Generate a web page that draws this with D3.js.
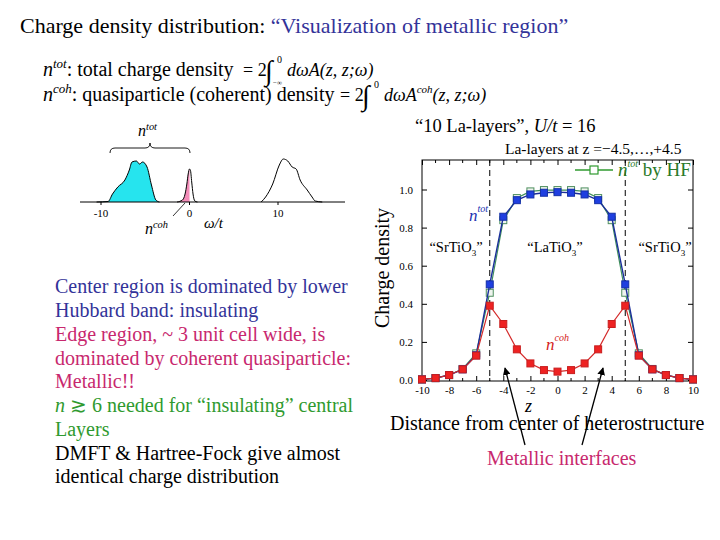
<!DOCTYPE html>
<html><head><meta charset="utf-8">
<script src="https://cdn.jsdelivr.net/npm/d3@7"></script>
<style>body{margin:0;background:#fff}svg{display:block}text{font-family:"Liberation Serif","Times New Roman",serif}</style>
</head><body>
<script>
// ---- data: main chart ----
const zValues = [-10,-9,-8,-7,-6,-5,-4,-3,-2,-1,0,1,2,3,4,5,6,7,8,9,10];
const nTot   = [0.003,0.01,0.026,0.056,0.13,0.502,0.857,0.944,0.974,0.983,0.986,0.983,0.974,0.944,0.857,0.502,0.13,0.056,0.026,0.01,0.003];
const nTotHF = [0.003,0.01,0.026,0.058,0.14,0.458,0.839,0.955,0.99,0.997,0.997,0.997,0.99,0.955,0.839,0.458,0.14,0.058,0.026,0.01,0.003];
const nCoh   = [0.003,0.01,0.026,0.056,0.128,0.39,0.294,0.161,0.087,0.052,0.044,0.052,0.087,0.161,0.294,0.39,0.128,0.056,0.026,0.01,0.003];
const xTickLabels = [-10,-8,-6,-4,-2,0,2,4,6,8,10];
const yTickLabels = [0.0,0.2,0.4,0.6,0.8,1.0];
const interfaceZ = [-5,5];
// ---- data: inset spectral function ----
const lowerW = [-10.5,-9.2,-8.7,-8.1,-7.3,-6.8,-6.5,-6.0,-5.65,-5.3,-4.8,-4.3,-3.8,-3.4];
const lowerA = [0,0.5,8,15,22,32,40,41,38,40,35,17,2,0];
const qpW = [-1.4,-0.8,-0.5,-0.3,-0.15,0,0.1,0.25,0.4,0.6,0.9];
const qpA = [0,2,8,18,28,33,32,20,8,1,0];
const upperW = [8.1,8.6,9.4,10.15,10.6,11.1,11.6,12.05,12.5,13.3,13.85,14.2,15];
const upperA = [0,5,18,37,43,41,35,33,22,12,5,1,0];
const insetTicks = [-10,0,10];

const W=720,H=540;
const svg=d3.select("body").append("svg").attr("width",W).attr("height",H)
  .attr("font-family","'Liberation Serif','Times New Roman',serif");

const blueText="#333399", magenta="#c8286e", green="#2f9a2f";

// Title
const t=svg.append("text").attr("x",20).attr("y",33).attr("font-size",22);
t.append("tspan").attr("fill","#000").text("Charge density distribution: ");
t.append("tspan").attr("fill",blueText).text("\u201cVisualization of metallic region\u201d");

// Formula lines
function nLabel(g,x,y,sup,rest,fs){
  const tx=g.append("text").attr("x",x).attr("y",y).attr("font-size",fs);
  tx.append("tspan").attr("font-style","italic").text("n");
  tx.append("tspan").attr("font-size",fs*0.65).attr("dy",-fs*0.4).attr("font-style","italic").text(sup);
  tx.append("tspan").attr("dy",fs*0.4).text(rest);
}
nLabel(svg,43,76,"tot",": total charge density",20);
nLabel(svg,43,101,"coh",": quasiparticle (coherent) density",20);
function formula(x,y,lower,coh){
  svg.append("text").attr("x",x).attr("y",y).attr("font-size",18).text("= 2");
  svg.append("text").attr("x",x+22).attr("y",y+4).attr("font-size",28).text("\u222b");
  svg.append("text").attr("x",x+34).attr("y",y-13).attr("font-size",10).text("0");
  if(lower) svg.append("text").attr("x",x+30).attr("y",y+9).attr("font-size",7).text("\u2212\u221e");
  const f=svg.append("text").attr("x",x+44).attr("y",y).attr("font-size",18).attr("font-style","italic");
  f.append("tspan").text("d\u03c9A");
  if(coh){f.append("tspan").attr("font-size",11).attr("dy",-8).text("coh");f.append("tspan").attr("dy",8).text("(z, z;\u03c9)");}
  else f.append("tspan").text("(z, z;\u03c9)");
}
formula(243,76,true,false);
formula(340,101,false,true);

// Subtitles
const s1=svg.append("text").attr("x",415).attr("y",132).attr("font-size",18.5);
s1.append("tspan").text("\u201c10 La-layers\u201d, ");
s1.append("tspan").attr("font-style","italic").text("U/t");
s1.append("tspan").text(" = 16");
svg.append("text").attr("x",505).attr("y",154).attr("font-size",15.5).text("La-layers at z =\u22124.5,\u2026,+4.5");

// ---- Inset ----
const xw=d3.scaleLinear().domain([-10,10]).range([101,278]);
const ya=d3.scaleLinear().domain([0,45]).range([202,157]);
const ins=svg.append("g");
const cv=d3.curveMonotoneX;
const areaG=d3.area().x(d=>xw(d[0])).y0(ya(0)).y1(d=>ya(d[1])).curve(cv);
const lineG=d3.line().x(d=>xw(d[0])).y(d=>ya(d[1])).curve(cv);
const lowerPts=lowerW.map((w,i)=>[w,lowerA[i]]);
const qpPts=qpW.map((w,i)=>[w,qpA[i]]);
const upperPts=upperW.map((w,i)=>[w,upperA[i]]);
ins.append("path").attr("d",areaG(lowerPts)).attr("fill","#26e4ee");
ins.append("path").attr("d",areaG(qpPts.filter(d=>d[0]<=0).concat([[0.02,0]]))).attr("fill","#f28cb8");
ins.append("line").attr("x1",80).attr("x2",345).attr("y1",ya(0)).attr("y2",ya(0)).attr("stroke","#000").attr("stroke-width",1);
[lowerPts,qpPts,upperPts].forEach(p=>ins.append("path").attr("d",lineG(p)).attr("fill","none").attr("stroke","#000").attr("stroke-width",1));
insetTicks.forEach(v=>{
  ins.append("line").attr("x1",xw(v)).attr("x2",xw(v)).attr("y1",ya(0)).attr("y2",ya(0)+3).attr("stroke","#000");
  ins.append("text").attr("x",xw(v)).attr("y",217).attr("text-anchor","middle").attr("font-size",11).text(String(v));
});
// brace over n_tot
ins.append("path").attr("d","M110,153 Q110,148 115,148 L145,148 Q150,148 150,143 Q150,148 155,148 L185,148 Q190,148 190,153").attr("fill","none").attr("stroke","#000").attr("stroke-width",0.9);
nLabel(ins,138,136,"tot","",16);
nLabel(ins,145,234,"coh","",16);
ins.append("line").attr("x1",173).attr("y1",216).attr("x2",185).attr("y2",203).attr("stroke","#000").attr("stroke-width",0.8);
ins.append("text").attr("x",204).attr("y",228).attr("font-size",15).attr("font-style","italic").text("\u03c9/t");

// ---- Left text block ----
const lines=[
 ["Center region is dominated by lower",blueText],
 ["Hubbard band: insulating",blueText],
 ["Edge region, ~ 3 unit cell wide, is",magenta],
 ["dominated by coherent quasiparticle:",magenta],
 ["Metallic!!",magenta],
 ["n \u2273 6 needed for \u201cinsulating\u201d central",green],
 ["Layers",green],
 ["DMFT & Hartree-Fock give almost","#000"],
 ["identical charge distribution","#000"]];
const baselines=[293,317,341,365,388,412,436,460,483];
lines.forEach((l,i)=>{
  const tx=svg.append("text").attr("x",55).attr("y",baselines[i]).attr("font-size",20).attr("fill",l[1]);
  if(i===5){tx.append("tspan").attr("font-style","italic").text("n");tx.append("tspan").text(l[0].slice(1));}
  else tx.text(l[0]);
});

// ---- Main chart ----
const x=d3.scaleLinear().domain([-10,10]).range([422,693]);
const y=d3.scaleLinear().domain([0,1]).range([380,189.5]);
const main=svg.append("g");
const yTop=160, yBot=y(0)+1;
interfaceZ.forEach(v=>main.append("line").attr("x1",x(v)).attr("x2",x(v)).attr("y1",yTop).attr("y2",yBot).attr("stroke","#000").attr("stroke-dasharray","6,4").attr("stroke-width",1));
const minorX=zValues.filter(v=>v%2!==0);
const gB=main.append("g").attr("transform",`translate(0,${yBot})`).call(d3.axisBottom(x).tickValues(xTickLabels).tickSize(-5).tickPadding(5).tickFormat(d=>String(d)));
const gT=main.append("g").attr("transform",`translate(0,${yTop})`).call(d3.axisTop(x).tickValues(xTickLabels).tickSize(-5).tickFormat(""));
const gL=main.append("g").attr("transform",`translate(${x(-10)},0)`).call(d3.axisLeft(y).tickValues(yTickLabels).tickSize(-5).tickPadding(9).tickFormat(d3.format(".1f")));
const gR=main.append("g").attr("transform",`translate(${x(10)},0)`).call(d3.axisRight(y).tickValues(yTickLabels).tickSize(-5).tickFormat(""));
[gB,gT,gL,gR].forEach(g=>{g.select(".domain").remove();g.selectAll("text").attr("font-family","Liberation Serif").attr("font-size",11).attr("fill","#000");g.selectAll("line").attr("stroke","#000");});
minorX.forEach(v=>{
  main.append("line").attr("x1",x(v)).attr("x2",x(v)).attr("y1",yBot).attr("y2",yBot-3).attr("stroke","#000");
  main.append("line").attr("x1",x(v)).attr("x2",x(v)).attr("y1",yTop).attr("y2",yTop+3).attr("stroke","#000");
});
main.append("rect").attr("x",x(-10)).attr("y",yTop).attr("width",x(10)-x(-10)).attr("height",yBot-yTop).attr("fill","none").attr("stroke","#000").attr("stroke-width",1);

const ln=d3.line().x((d,i)=>x(zValues[i])).y(d=>y(d));
const sq=7;
function series(vals,stroke,lw,fill,mstroke){
  main.append("path").attr("d",ln(vals)).attr("fill","none").attr("stroke",stroke).attr("stroke-width",lw);
  main.selectAll(null).data(vals).enter().append("rect")
    .attr("x",(d,i)=>x(zValues[i])-sq/2).attr("y",d=>y(d)-sq/2).attr("width",sq).attr("height",sq)
    .attr("fill",fill).attr("stroke",mstroke).attr("stroke-width",1);
}
series(nTotHF,"#3f8f5a",1.2,"#eef4ee","#4f8f5f");
series(nTot,"#1a2f9a",1.4,"#1f3fe0","#1530a8");
series(nCoh,"#d42a2a",1.2,"#ee2222","#c81e1e");

// legend
const lgY=170;
main.append("line").attr("x1",575).attr("x2",613).attr("y1",lgY).attr("y2",lgY).attr("stroke",green).attr("stroke-width",1.3);
main.append("rect").attr("x",594-4).attr("y",lgY-4).attr("width",8).attr("height",8).attr("fill","#fff").attr("stroke",green).attr("stroke-width",1.2);
const lt=main.append("text").attr("x",618).attr("y",176).attr("font-size",19).attr("fill","#2a7a2a");
lt.append("tspan").attr("font-style","italic").text("n");
lt.append("tspan").attr("font-style","italic").attr("font-size",10).attr("dy",-9).text("tot");
lt.append("tspan").attr("dy",9).text(" by HF");

// in-plot labels
function chem(xc,yc,name){
  const tx=main.append("text").attr("x",xc).attr("y",yc).attr("font-size",14.5).attr("text-anchor","middle");
  tx.append("tspan").text("\u201c"+name);tx.append("tspan").attr("font-size",9).attr("dy",4).text("3");tx.append("tspan").attr("dy",-4).text("\u201d");
}
chem(456,252,"SrTiO");chem(555,252,"LaTiO");chem(665,252,"SrTiO");
const ntl=main.append("text").attr("x",469).attr("y",221).attr("font-size",17).attr("fill","#2030b0").attr("font-style","italic");
ntl.append("tspan").text("n");ntl.append("tspan").attr("font-size",10).attr("dy",-9).text("tot");
const ncl=main.append("text").attr("x",546).attr("y",350).attr("font-size",17).attr("fill","#d42020").attr("font-style","italic");
ncl.append("tspan").text("n");ncl.append("tspan").attr("font-size",10).attr("dy",-9).text("coh");

// axis titles
svg.append("text").attr("transform","translate(389,268) rotate(-90)").attr("text-anchor","middle").attr("font-size",20).text("Charge density");
svg.append("text").attr("x",525).attr("y",412).attr("font-size",18).attr("font-style","italic").text("z");
svg.append("text").attr("x",390).attr("y",430).attr("font-size",20).text("Distance from center of heterostructure");
svg.append("text").attr("x",487).attr("y",465).attr("font-size",20).attr("fill",magenta).text("Metallic interfaces");

// arrows
svg.append("defs").append("marker").attr("id","ah").attr("viewBox","0 0 10 10").attr("refX",9).attr("refY",5).attr("markerWidth",6).attr("markerHeight",6).attr("orient","auto")
  .append("path").attr("d","M0,0 L10,5 L0,10 z").attr("fill","#000");
[[525,445,505,368],[582,445,603,368]].forEach(a=>svg.append("line").attr("x1",a[0]).attr("y1",a[1]).attr("x2",a[2]).attr("y2",a[3]).attr("stroke","#000").attr("stroke-width",1.3).attr("marker-end","url(#ah)"));
</script>
</body></html>
